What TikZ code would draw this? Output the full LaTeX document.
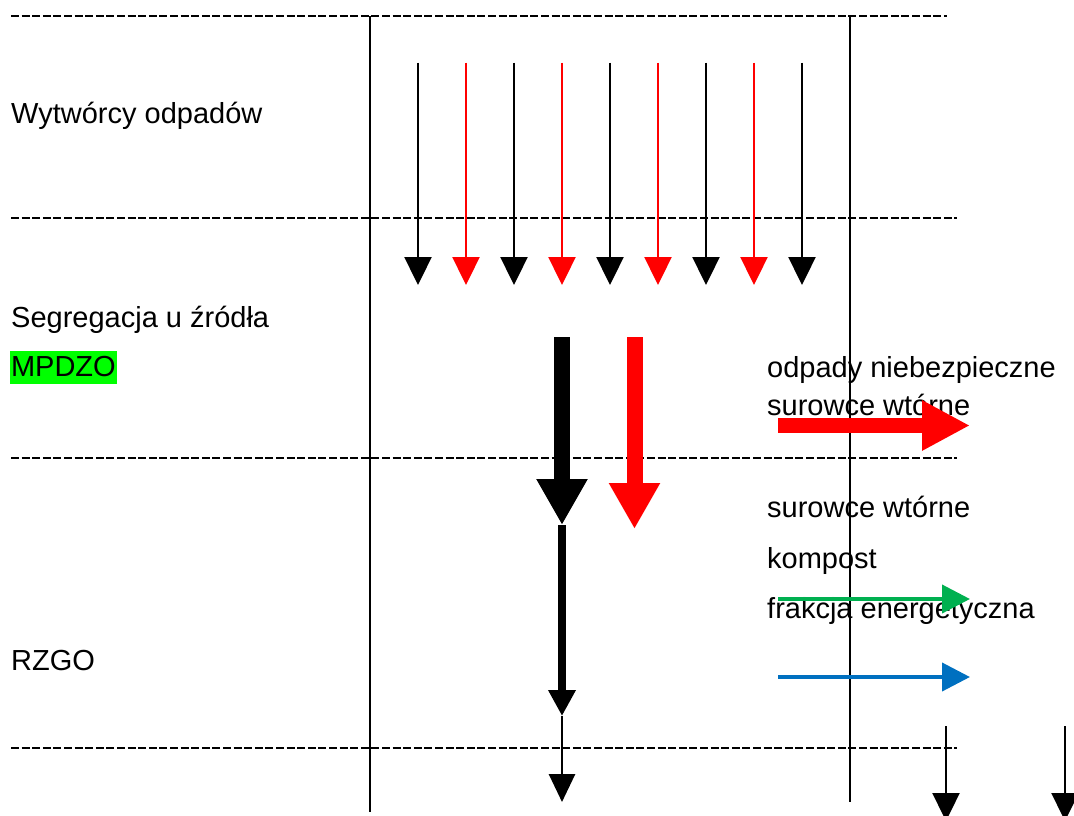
\documentclass[tikz,border=0pt]{standalone}
\usepackage{fontspec}
\setmainfont{Liberation Sans}
\usetikzlibrary{arrows.meta}
\definecolor{xred}{HTML}{FF0000}
\definecolor{xgreen}{HTML}{00B050}
\definecolor{xblue}{HTML}{0070C0}
\definecolor{xlime}{HTML}{00FF00}
\begin{document}
\begin{tikzpicture}[x=1pt,y=-1pt,
  sepline/.style={line width=2.4pt, dash pattern=on 8pt off 2.6pt},
  vline/.style={line width=2.4pt},
  thinarr/.style={line width=2.4pt,-{Triangle[width=27pt,length=28pt]}},
  thickarr/.style={line width=16pt,-{Triangle[width=48pt,length=46pt]}},
  midarr/.style={line width=8pt,-{Triangle[width=26pt,length=26pt]}},
  harr/.style={line width=4pt,-{Triangle[width=28pt,length=28pt]}},
  lbl/.style={font=\fontsize{29}{34}\selectfont, inner sep=0pt, anchor=base west}]
\useasboundingbox (0,0) rectangle (1074,816);
% separators
\coordinate (s1a) at (11,16);  \coordinate (s1b) at (947,16);
\coordinate (s2a) at (11,218); \coordinate (s2b) at (957,218);
\coordinate (s3a) at (11,458); \coordinate (s3b) at (957,458);
\coordinate (s4a) at (11,748); \coordinate (s4b) at (957,748);
\draw[sepline] (s1a) -- (s1b);
\draw[sepline] (s2a) -- (s2b);
\draw[sepline] (s3a) -- (s3b);
\draw[sepline] (s4a) -- (s4b);
% vertical lines
\coordinate (v1a) at (370,16); \coordinate (v1b) at (370,812);
\coordinate (v2a) at (850,17); \coordinate (v2b) at (850,802);
\draw[vline] (v1a) -- (v1b);
\draw[vline] (v2a) -- (v2b);
% labels
\node[lbl] (wyt) at (11,124) {Wytwórcy odpadów};
\node[lbl] (seg) at (11,327) {Segregacja u źródła};
\node[lbl, fill=xlime, inner xsep=0.8pt, text height=25pt, text depth=8pt] (mpd) at (10,376) {MPDZO};
\node[lbl] (rzgo) at (11,670) {RZGO};
\node[lbl] (t1) at (767,377) {odpady niebezpieczne};
\node[lbl] (t2) at (767,415) {surowce wtórne};
\node[lbl] (t3) at (767,517) {surowce wtórne};
\node[lbl] (t4) at (767,568) {kompost};
\node[lbl] (t5) at (767,618) {frakcja energetyczna};
% thin arrows
\foreach \i/\c in {0/black,1/xred,2/black,3/xred,4/black,5/xred,6/black,7/xred,8/black}{
  \coordinate (a\i) at ({418+48*\i},63);
  \coordinate (b\i) at ({418+48*\i},285);
  \draw[thinarr, draw=\c, fill=\c] (a\i) -- (b\i);
}
% thick arrows
\coordinate (k1a) at (562,337); \coordinate (k1b) at (562,525);
\coordinate (k2a) at (634.5,337); \coordinate (k2b) at (634.5,529);
\draw[thickarr, black] (k1a) -- (k1b);
\draw[thickarr, xred] (k2a) -- (k2b);
\coordinate (m1b) at (562,716);
\draw[midarr, black] (k1b) -- (m1b);
\coordinate (m2b) at (562,802);
\draw[thinarr, line width=2.8pt, -{Triangle[width=26pt,length=28pt]}] (m1b) -- (m2b);
% horizontal arrows
\coordinate (hra) at (778,425.5); \coordinate (hrb) at (970,425.5);
\draw[line width=15pt, xred, -{Triangle[width=47pt,length=48pt]}] (hra) -- (hrb);
\coordinate (hga) at (778,599); \coordinate (hgb) at (970,599);
\draw[harr, xgreen] (hga) -- (hgb);
\coordinate (hba) at (778,677); \coordinate (hbb) at (970,677);
\draw[harr, xblue] (hba) -- (hbb);
% bottom right arrows
\coordinate (r1a) at (946,726); \coordinate (r1b) at (946,821);
\coordinate (r2a) at (1065,726); \coordinate (r2b) at (1065,821);
\draw[thinarr, -{Triangle[width=27pt,length=28pt]}] (r1a) -- (r1b);
\draw[thinarr, -{Triangle[width=27pt,length=28pt]}] (r2a) -- (r2b);
\end{tikzpicture}
\end{document}
